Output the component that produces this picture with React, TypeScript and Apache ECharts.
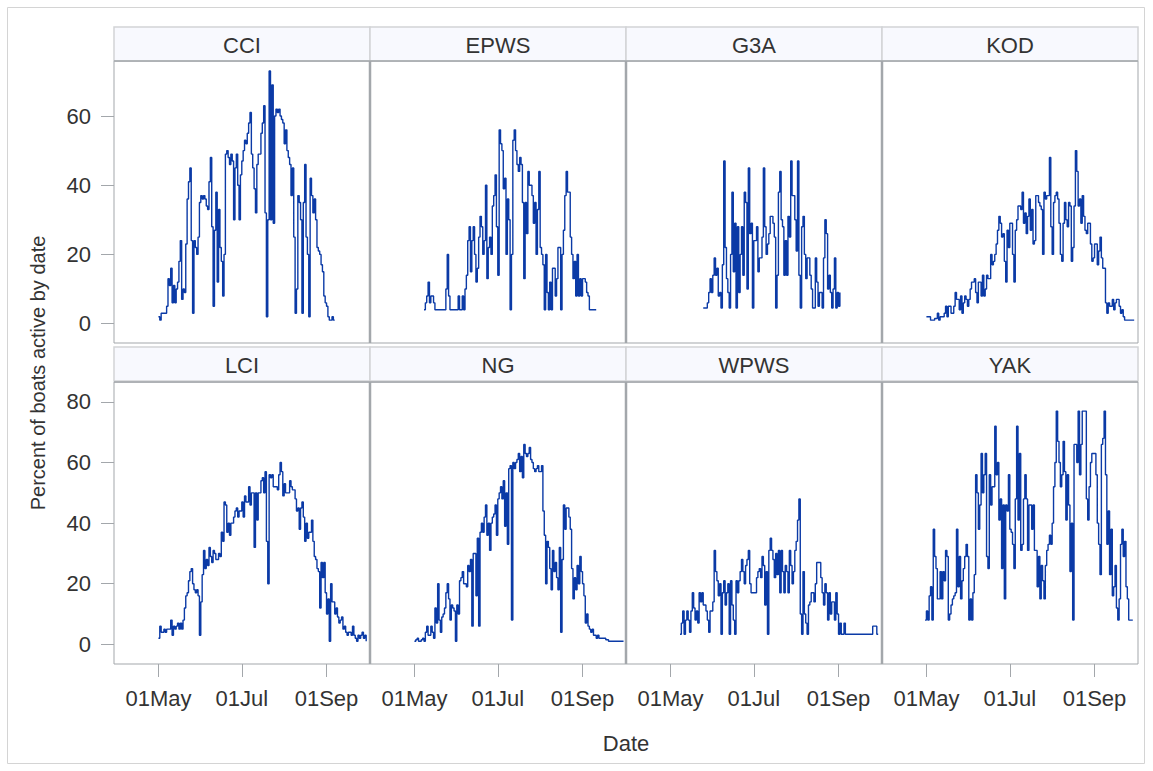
import React, { useEffect, useRef } from "react";
import * as echarts from "echarts";

// ---- data (x = days since 01May) ----
const panelNames = ["CCI", "EPWS", "G3A", "KOD", "LCI", "NG", "WPWS", "YAK"];
const startDays = [0, 7, 24, 0, 0, 0, 7, -1];

const tickDays = [0, 61, 123];
const tickLabels = ["01May", "01Jul", "01Sep"];
const yTicksTop = [0, 20, 40, 60];
const yTicksBottom = [0, 20, 40, 60, 80];

const cciValues = [2,1,3,3,3,3,5,13,11,16, 6,11,6,10,12,18,24,7,10,9, 23,36,41,45,24,3,24,22,20,25, 35,37,36,37,36,34,33,41,48,28, 5,27,38,12,33,22,18,8,20,49, 50,48,46,49,47,30,45,49,40,30, 43,47,50,53,52,55,58,61,49,45, 39,32,46,49,49,55,58,63,32,2, 30,73,30,69,29,60,62,61,62,60, 59,58,52,56,50,48,46,37,45,25, 3,10,37,35,30,3,35,46,25,20, 2,42,37,32,36,30,22,21,20,17, 15,8,6,5,2,1,1,2,1,1];
const epwsValues = [4,6,8,12,6,8,8,6,4,4, 4,4,4,4,4,4,10,20,8,4, 4,4,4,4,4,8,4,4,8,4, 10,14,24,28,15,24,28,20,12,16, 25,31,28,20,24,40,13,22,25,20, 34,37,43,28,14,56,52,50,39,42, 20,36,30,4,20,53,56,50,46,44, 48,46,35,13,35,26,44,40,40,37, 29,35,20,33,44,22,20,17,4,20, 9,4,12,4,16,16,8,13,22,22, 4,20,27,37,44,38,38,25,20,13, 18,8,20,8,13,8,13,13,12,9, 8,4,4,4,4,4,4];
const g3aValues = [4.5,4.5,4.5,6,9,13,9,14,19,14, 16,8,9,4.5,17,47,22,13,9,4.5, 20,38,15,29,4.5,28,9,20,28,14, 38,35,10,45,26,29,4.5,24,24,28, 15,19,19,25,45,28,20,23,26,31, 31,29,25,4.5,14,38,44,30,28,14, 24,14,31,25,47,37,37,30,21,47, 14,4.5,28,31,20,13,19,19,14,10, 4.5,4.5,19,12,5,9,9,4.5,19,30, 26,10,14,9,4.5,10,19,4.5,9,5, 9];
const kodValues = [2,2,2,1,1,1,1.5,1.5,3,1, 2,2,2,3,5,2,5,5,3,3, 5,9,7,7,4,8,3,6,8,7, 5,7,10,12,12,13,9,6,12,12, 8,14,8,10,14,13,13,20,17,18, 20,23,27,31,29,25,26,18,12,27, 22,29,29,20,12,27,30,34,34,33, 38,29,32,26,31,36,27,33,23,24, 37,37,35,34,33,20,38,36,37,37, 48,28,20,35,37,38,36,29,20,18, 29,35,30,28,35,34,18,22,34,50, 44,34,36,29,37,31,27,26,29,29, 23,18,19,23,23,17,21,25,19,16, 16,6,3,6,5,5,7,4,6,7, 7,5,3,4,2,1,1,1,1,1, 1,1,1];
const lciValues = [2,6,4,4,5,4,5,5,5,8, 3,6,5,6,7,5,7,5,8,12, 16,17,21,24,25,20,18,17,18,16, 3,14,23,31,25,28,26,32,29,27, 31,30,28,28,30,29,37,34,47,46, 37,40,36,40,40,42,44,45,42,44, 44,47,42,49,47,47,52,46,50,50, 32,50,41,50,50,54,55,50,57,34, 20,56,55,56,52,52,52,51,56,60, 57,49,53,50,50,50,54,52,51,51, 48,44,45,38,45,47,42,34,40,35, 37,37,41,34,29,28,25,24,12,27, 22,27,17,10,15,1,20,14,14,10, 12,9,7,8,9,5,6,4,3,4, 4,3,6,3,2,1,3,2,3,4, 2,3,1];
const ngValues = [1,1.5,2,1,1,1.5,2,1,4,6, 3,3,6,4,2,12,7,20,8,4, 9,10,12,17,20,15,8,13,12,11, 1,13,10,21,22,24,20,20,19,26, 24,28,6,30,30,16,35,6,37,40, 37,42,46,36,40,31,40,42,43,46, 36,48,50,52,48,54,39,50,33,58, 59,8,60,58,60,61,63,57,62,55, 66,63,62,63,65,61,60,58,57,58, 59,57,57,59,44,36,20,34,32,25, 18,31,24,27,22,18,32,4,28,46, 38,45,45,42,38,25,15,22,18,26, 20,29,24,20,16,7,10,6,5,4, 5,3,3,2,3,2,2,2,2,2, 1.5,1.5,1,1,1,1,1,1,1,1, 1,1,1,1];
const wpwsValues = [3.3,7,11,3.3,8,11,8,4,11,17, 12,8,11,7,17,14,17,13,13,11, 8,4,11,11,14,31,24,21,16,20, 3.3,17,21,13,17,20,3.3,21,13,8, 3.3,21,17,21,24,28,24,20,26,28, 31,20,17,17,17,17,22,24,25,22, 29,26,13,24,3.3,31,35,31,28,22, 30,23,31,17,31,24,17,26,24,17, 31,26,20,24,31,34,41,48,10,3.3, 24,10,7,3.3,13,14,17,17,14,20, 27,27,27,22,17,13,20,17,8,17, 10,14,14,8,17,10,3.3,7,3.3,3.3, 7,3.3,3.3,3.3,3.3,3.3,3.3,3.3,3.3,3.3, 3.3,3.3,3.3,3.3,3.3,3.3,3.3,3.3,3.3,3.3, 3.3,6,6,6,3.3,3.3];
const yakValues = [8,11,8,16,19,8,38,29,25,15, 15,24,15,24,21,31,29,8,10,13, 15,16,17,38,19,29,15,21,25,29, 33,29,8,15,8,17,23,56,50,38, 46,63,50,56,63,29,25,56,46,52, 52,72,56,60,41,48,25,46,15,46, 44,56,38,37,33,25,48,72,41,63, 31,33,48,56,48,31,46,46,38,46, 31,31,19,29,15,26,21,15,26,31, 33,36,33,40,52,60,77,67,60,52, 56,67,57,41,56,46,24,40,8,66, 66,60,77,56,66,77,77,77,48,41, 52,60,63,63,63,56,40,33,23,66, 68,77,56,33,44,23,38,16,19,26, 12,8,15,33,38,29,34,19,15,8, 8,8,8];

const panelValues = [cciValues, epwsValues, g3aValues, kodValues, lciValues, ngValues, wpwsValues, yakValues];

// ---- layout / style ----
const FONT = "'Liberation Sans', Arial, Helvetica, sans-serif";
const TEXT = "#333333";
const LINE = "#0b3aa6";
const BORDER = "#a3a7ab";
const colLefts = [114, 370, 626, 882];
const colWidth = 256;
const rowTops = [61, 382];
const rowHeight = 282;
const headerTops = [27, 347];
const headerHeight = 34;
const xMin = -32.5;
const xMax = 154.8;
const yRanges = [
  { min: -5.6, max: 75.9 },
  { min: -6.5, max: 86.6 },
];

export default function App() {
  const ref = useRef<HTMLDivElement>(null);

  useEffect(() => {
    if (!ref.current) return;
    const chart = echarts.init(ref.current, undefined, { renderer: "svg" });

    const grids: any[] = [];
    const xAxes: any[] = [];
    const yAxes: any[] = [];
    const series: any[] = [];
    const graphics: any[] = [];

    graphics.push({
      type: "rect",
      shape: { x: 7.5, y: 7.5, width: 1137, height: 756 },
      style: { fill: "none", stroke: "#d4d4d4", lineWidth: 1 },
      silent: true,
    });

    panelNames.forEach((name, i) => {
      const row = Math.floor(i / 4);
      const col = i % 4;
      const yTicks = row === 0 ? yTicksTop : yTicksBottom;
      grids.push({
        left: colLefts[col],
        top: rowTops[row],
        width: colWidth,
        height: rowHeight,
        show: true,
        backgroundColor: "#ffffff",
        borderColor: BORDER,
        borderWidth: 1,
      });
      xAxes.push({
        gridIndex: i,
        type: "value",
        position: "bottom",
        min: xMin,
        max: xMax,
        axisLine: { show: false, onZero: false },
        splitLine: { show: false },
        axisTick: {
          show: row === 1,
          customValues: tickDays,
          length: 13,
          lineStyle: { color: BORDER, width: 1 },
        },
        axisLabel: {
          show: row === 1,
          customValues: tickDays,
          margin: 23,
          fontSize: 22,
          color: TEXT,
          fontFamily: FONT,
          formatter: (v: number) => {
            const k = tickDays.indexOf(Math.round(v));
            return k >= 0 ? tickLabels[k] : "";
          },
        },
      });
      yAxes.push({
        gridIndex: i,
        type: "value",
        position: "left",
        min: yRanges[row].min,
        max: yRanges[row].max,
        axisLine: { show: false, onZero: false },
        splitLine: { show: false },
        axisTick: {
          show: col === 0,
          customValues: yTicks,
          length: 13,
          lineStyle: { color: BORDER, width: 1 },
        },
        axisLabel: {
          show: col === 0,
          customValues: yTicks,
          margin: 23,
          fontSize: 22,
          color: TEXT,
          fontFamily: FONT,
        },
      });
      const vals = panelValues[i];
      series.push({
        type: "line",
        name,
        xAxisIndex: i,
        yAxisIndex: i,
        step: "end",
        showSymbol: false,
        symbol: "none",
        clip: true,
        lineStyle: { color: LINE, width: 1.4 },
        data: vals.map((v, k) => [startDays[i] + k, v]),
      });

      // header strip
      graphics.push({
        type: "rect",
        shape: { x: colLefts[col], y: headerTops[row], width: colWidth, height: headerHeight },
        style: { fill: "#f8f9fe", stroke: "#d2d4d6", lineWidth: 1.5 },
        silent: true,
        z: 5,
      });
      graphics.push({
        type: "text",
        x: colLefts[col] + colWidth / 2,
        y: headerTops[row] + headerHeight / 2 + 1,
        style: {
          text: name,
          fill: TEXT,
          font: `22px ${FONT}`,
          textAlign: "center",
          textVerticalAlign: "middle",
        },
        silent: true,
        z: 6,
      });
    });

    // thicker dividers between panels
    [1, 2, 3].forEach((c) => {
      [0, 1].forEach((r) => {
        graphics.push({
          type: "line",
          shape: { x1: colLefts[c], y1: rowTops[r], x2: colLefts[c], y2: rowTops[r] + rowHeight },
          style: { stroke: BORDER, lineWidth: 2.5 },
          silent: true,
          z: 50,
        });
      });
    });
    [0, 1].forEach((r) => {
      graphics.push({
        type: "line",
        shape: { x1: colLefts[0], y1: rowTops[r], x2: colLefts[3] + colWidth, y2: rowTops[r] },
        style: { stroke: BORDER, lineWidth: 1.5 },
        silent: true,
        z: 50,
      });
    });

    graphics.push({
      type: "text",
      x: 38,
      y: 373,
      rotation: Math.PI / 2,
      style: {
        text: "Percent of boats active by date",
        fill: TEXT,
        font: `20px ${FONT}`,
        textAlign: "center",
        textVerticalAlign: "middle",
      },
      silent: true,
    });
    graphics.push({
      type: "text",
      x: 626,
      y: 743,
      style: {
        text: "Date",
        fill: TEXT,
        font: `22px ${FONT}`,
        textAlign: "center",
        textVerticalAlign: "middle",
      },
      silent: true,
    });

    chart.setOption({
      animation: false,
      backgroundColor: "#ffffff",
      grid: grids,
      xAxis: xAxes,
      yAxis: yAxes,
      series,
      graphic: graphics,
    });

    return () => chart.dispose();
  }, []);

  return (
    <div
      ref={ref}
      style={{ position: "absolute", left: 0, top: 0, width: 1153, height: 771 }}
    />
  );
}
